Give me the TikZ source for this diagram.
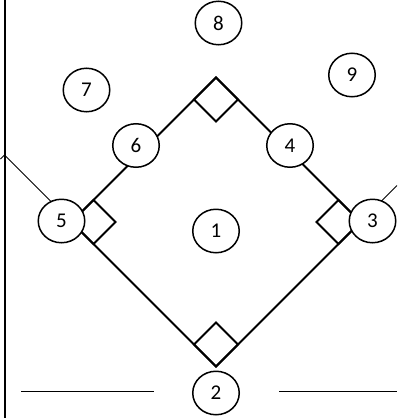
\documentclass[tikz,border=0pt]{standalone}
\usepackage{fontspec}
\setmainfont{Carlito}
\usetikzlibrary{shapes.geometric}
\tikzset{
  player/.style={ellipse, draw, fill=white, line width=1.5pt, minimum width=46.5pt, minimum height=43.5pt, inner sep=0pt, font=\fontsize{21}{21}\selectfont},
  fieldline/.style={line width=1.8pt},
  baseline/.style={line width=1.8pt, line join=miter},
  thinline/.style={line width=1pt},
  midline/.style={line width=1.4pt}
}
\begin{document}
\begin{tikzpicture}[x=1pt,y=-1pt]
\useasboundingbox (0,0) rectangle (397,418);
% field corners
\coordinate (vtop) at (216,77.5);
\coordinate (vright) at (360.5,222);
\coordinate (vhome) at (216,366.5);
\coordinate (vleft) at (71.5,222);
\coordinate (lfoul) at (4.5,155);
\coordinate (lstub) at (0.5,159);
\coordinate (rfoul) at (397,185.5);
% foul lines
\draw[thinline] (vleft) -- (lfoul) -- (lstub);
\draw[thinline] (vright) -- (rfoul);
% border
\coordinate (btop) at (4.5,0);
\coordinate (bbot) at (4.5,418);
\draw[line width=2pt] (btop) -- (bbot);
% bottom lines
\coordinate (bl1) at (21,391.5);
\coordinate (bl2) at (154,391.5);
\coordinate (br1) at (279,391.5);
\coordinate (br2) at (397,391.5);
\draw[midline] (bl1) -- (bl2);
\draw[midline] (br1) -- (br2);
% diamond
\draw[fieldline] (vtop) -- (vright) -- (vhome) -- (vleft) -- cycle;
% bases
\draw[baseline] (vtop) -- ++(22,22) -- ++(-22,22) -- ++(-22,-22) -- cycle;
\draw[baseline] (vright) -- ++(-22,-22) -- ++(-22,22) -- ++(22,22) -- cycle;
\draw[baseline] (vhome) -- ++(22,-22) -- ++(-22,-22) -- ++(-22,22) -- cycle;
\draw[baseline] (vleft) -- ++(22,-22) -- ++(22,22) -- ++(-22,22) -- cycle;
% players
\node[player] (p1) at (216,231) {1};
\node[player] (p2) at (216,393) {2};
\node[player] (p3) at (372.5,221) {3};
\node[player] (p4) at (290,145.5) {4};
\node[player] (p5) at (61.5,221) {5};
\node[player] (p6) at (136,145.5) {6};
\node[player] (p7) at (86.5,90) {7};
\node[player] (p8) at (218.5,23) {8};
\node[player] (p9) at (352,75) {9};
\end{tikzpicture}
\end{document}
